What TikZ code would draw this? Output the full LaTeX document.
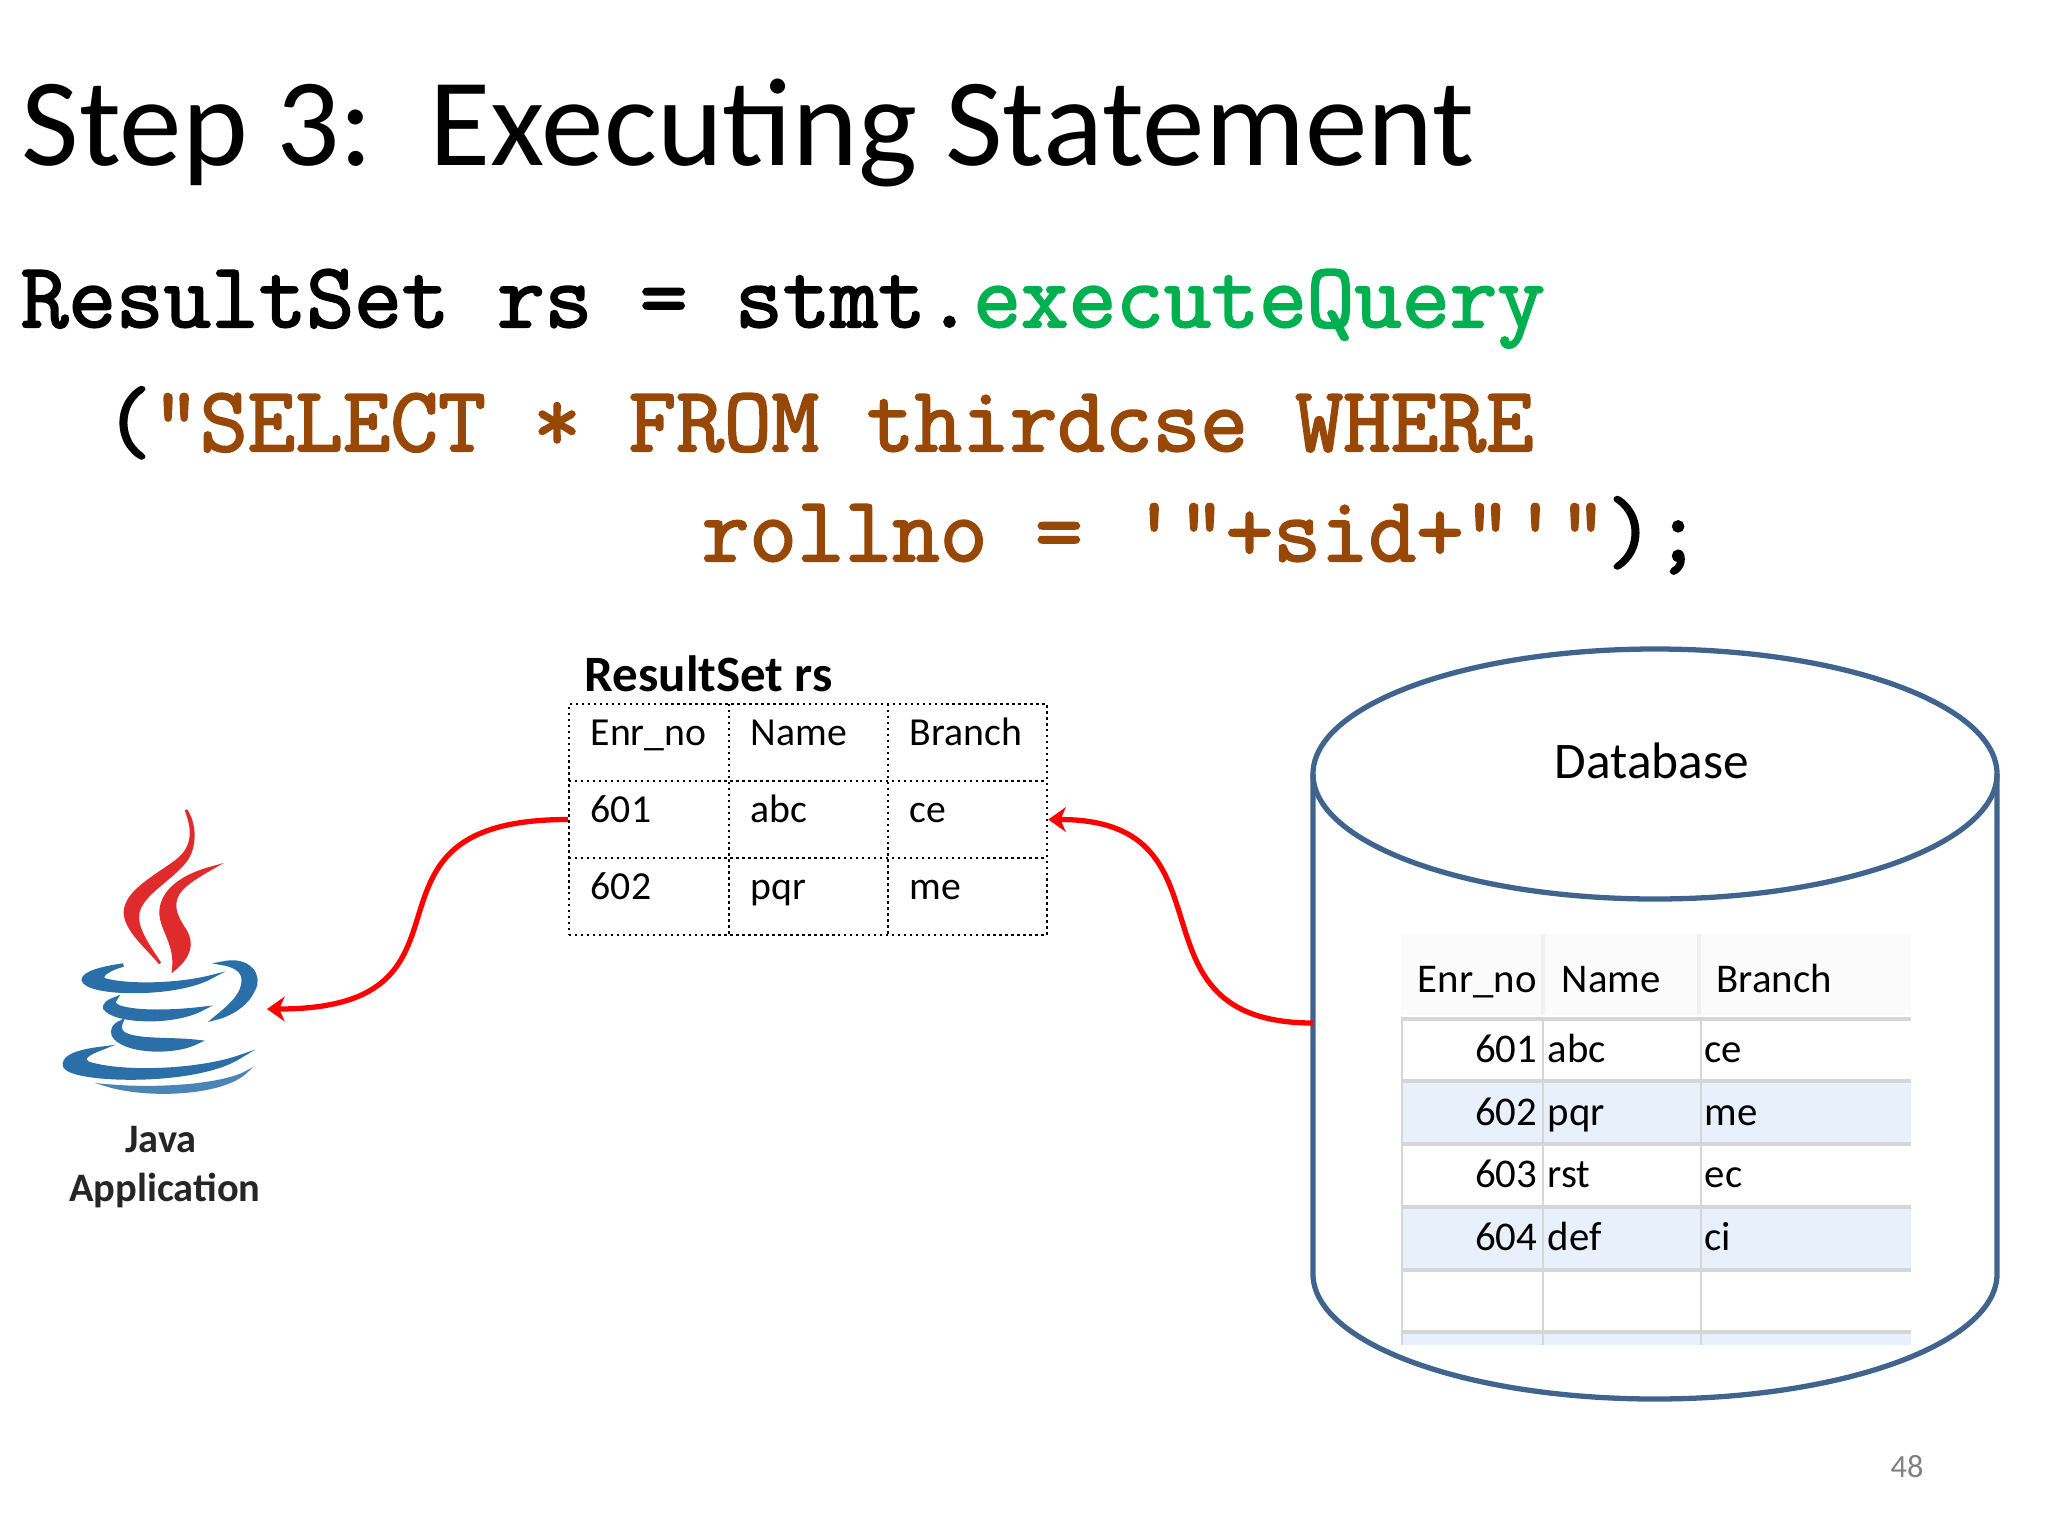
\documentclass[tikz,border=0pt]{standalone}
\usepackage{fontspec}
\setmainfont{Carlito}
\newfontfamily\codefont{Latin Modern Mono}[FakeBold=2.2]
\usetikzlibrary{arrows.meta}
\definecolor{dbline}{HTML}{41648F}
\definecolor{qgreen}{HTML}{00B050}
\definecolor{qbrown}{HTML}{984806}
\definecolor{logoblue}{HTML}{2A6FA8}
\definecolor{logored}{HTML}{DF2B2B}
\definecolor{rowblue}{HTML}{E8F0FB}
\definecolor{gridgray}{HTML}{D6D6D6}
\tikzset{
         txt/.style={anchor=base west,inner sep=0pt},
         codeline/.style={txt,font=\codefont\fontsize{26.3}{30}\selectfont},
         cell/.style={txt,font=\fontsize{11.3}{13}\selectfont},
         dbcell/.style={txt,font=\fontsize{11.6}{13}\selectfont,text=black},
         flame/.style={fill=logored,draw=logored,line width=.8pt},
         cup/.style={fill=logoblue,draw=logoblue,line width=1pt},
         link/.style={red,line width=1.5pt,-{Stealth[length=5pt,width=7pt,inset=1.5pt]}}
        }
\begin{document}
\begin{tikzpicture}[x=.01cm,y=-.01cm]
\useasboundingbox(0,0)rectangle(2048,1536);
\node[txt,font=\fontsize{35.6}{40}\selectfont](title)at(21,165){Step 3:\ \ Executing Statement};
\node[codeline](line1)at(20,327){ResultSet rs = stmt.\textcolor{qgreen}{executeQuery}};
\node[codeline](line2)at(104,451){(\textcolor{qbrown}{"SELECT * FROM thirdcse WHERE}};
\node[codeline](line3)at(701,561){\textcolor{qbrown}{rollno = \symbol{39}"+sid+"\symbol{39}"});};
\node[txt,font=\bfseries\fontsize{14.5}{16}\selectfont](rscaption)at(584,691){ResultSet rs};
\node[draw,densely dotted,line width=.7pt,minimum width=478*.01cm,minimum height=231*.01cm,inner sep=0pt](rsbox)at(808,819.5){};
\draw[densely dotted,line width=.7pt](569,781)--(1047,781)(569,858)--(1047,858)(729,704)--(729,935)(888,704)--(888,935);
\foreach \y/\a/\b/\c in {745/Enr\_no/Name/Branch,822/601/abc/ce,899/602/pqr/me}
{
\node[cell](rsa\y)at(590,\y){\a};
\node[cell](rsb\y)at(750,\y){\b};
\node[cell](rsc\y)at(909,\y){\c};
}
\draw[dbline,line width=1.5pt](1313,774)--(1313,1274)arc[start angle=180,end angle=360,x radius=342,y radius=-125]--(1997,774);
\draw[dbline,line width=1.5pt](1655,774)ellipse[x radius=342,y radius=125];
\node[font=\fontsize{14.6}{16}\selectfont](dbname)at(1652,761){Database};
\coordinate(dbport)at(1313,1023);
\fill[black!1.5](1401,934)rectangle(1911,1015);
\fill[rowblue](1401,1081)rectangle(1911,1144);
\fill[rowblue](1401,1207)rectangle(1911,1270);
\fill[rowblue](1401,1332)rectangle(1911,1345);
\draw[gridgray,line width=1pt](1401,1019)--(1911,1019)(1401,1081)--(1911,1081)(1401,1144)--(1911,1144)(1401,1207)--(1911,1207)(1401,1270)--(1911,1270)(1401,1332)--(1911,1332);
\draw[gridgray,line width=.8pt](1402,1019)--(1402,1345)(1543,1019)--(1543,1345)(1701,1019)--(1701,1345);
\draw[black!6,line width=1.2pt](1543,934)--(1543,1015)(1699,934)--(1699,1015);
\node[dbcell](dbhda)at(1417,992){Enr\_no};
\node[dbcell](dbhdb)at(1561,992){Name};
\node[dbcell](dbhdc)at(1716,992){Branch};
\foreach \y/\a/\b/\c in {1062/601/abc/ce,1125/602/pqr/me,1187/603/rst/ec,1250/604/def/ci}
{
\node[dbcell,anchor=base east](dba\y)at(1538,\y){\a};
\node[dbcell](dbb\y)at(1547,\y){\b};
\node[dbcell](dbc\y)at(1704,\y){\c};
}
\begin{scope}[shift={(30,780)},scale=1/3]
\path[flame](468,90)..controls(500,170)and(480,215)..(430,250)..controls(350,305)and(290,340)..(285,395)..controls(285,450)and(350,500)..(390,550)..controls(350,490)and(315,440)..(325,395)..controls(340,340)and(420,300)..(465,245)..controls(500,200)and(495,130)..(468,90)--cycle;
\path[flame](550,262)..controls(460,285)and(395,330)..(392,395)..controls(392,450)and(440,490)..(430,570)..controls(480,530)and(490,490)..(465,450)..controls(435,405)and(425,375)..(445,340)..controls(465,310)and(510,285)..(550,262)--cycle;
\path[cup](280,555)..controls(210,565)and(160,580)..(160,600)..controls(170,645)and(440,650)..(545,590)..controls(450,615)and(300,620)..(225,600)..controls(200,590)and(240,565)..(280,555)--cycle;
\path[cup](575,550)..controls(660,530)and(695,590)..(670,630)..controls(650,675)and(600,705)..(555,715)..controls(610,670)and(640,640)..(640,600)..controls(640,570)and(610,555)..(575,550)--cycle;
\path[cup](258,655)..controls(230,665)and(222,675)..(225,685)..controls(250,725)and(430,735)..(520,685)..controls(440,695)and(320,700)..(265,680)..controls(250,672)and(250,665)..(258,655)--cycle;
\path[cup](275,725)..controls(250,735)and(245,750)..(250,765)..controls(275,815)and(430,825)..(505,785)..controls(430,775)and(320,785)..(280,760)..controls(268,750)and(268,738)..(275,725)--cycle;
\path[cup](215,805)..controls(130,815)and(95,835)..(105,860)..controls(130,905)and(500,915)..(630,830)..controls(520,870)and(290,885)..(175,850)..controls(150,835)and(175,820)..(215,805)--cycle;
\path[cup,logoblue!85,line width=.6pt](225,915)..controls(350,955)and(580,945)..(650,875)..controls(580,915)and(380,930)..(225,915)--cycle;
\end{scope}
\node[font=\bfseries\fontsize{11.5}{13}\selectfont,text=black!85](javaname)at(161,1140){Java};
\node[font=\bfseries\fontsize{11.5}{13}\selectfont,text=black!85](appname)at(165,1190){Applicat{}ion};
\coordinate(javaport)at(267,1009);
\draw[link](rsbox.west)to[out=180,in=0,looseness=1.7](javaport);
\draw[link](dbport)to[out=180,in=0,looseness=1.5](rsbox.east);
\node[font=\fontsize{9.2}{11}\selectfont,text=black!50](pagenum)at(1907,1467){48};
\end{tikzpicture}
\end{document}
